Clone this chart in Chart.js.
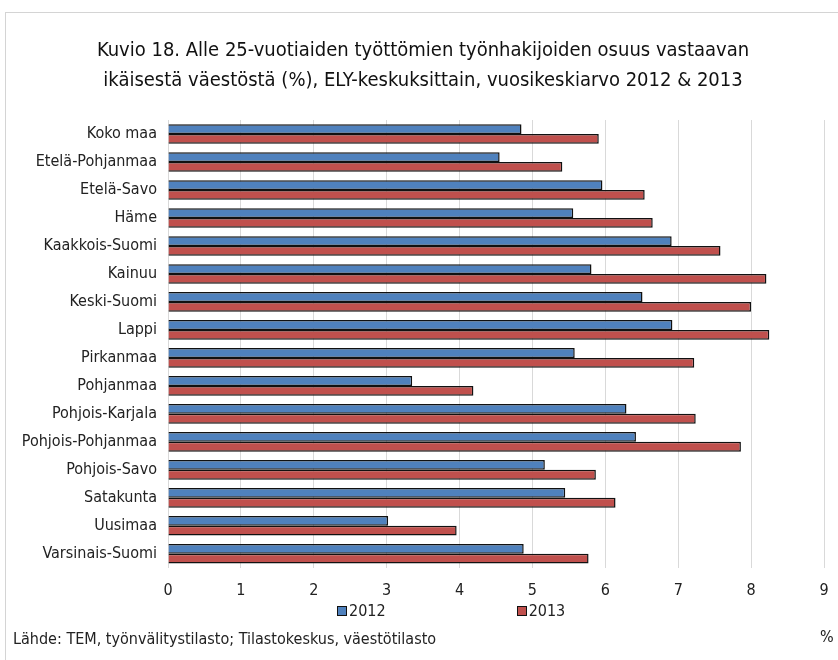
<!DOCTYPE html>
<html lang="fi">
<head>
<meta charset="utf-8">
<script src="https://cdn.jsdelivr.net/npm/chart.js@4/dist/chart.umd.min.js"></script>
<style>
  html, body { margin: 0; padding: 0; background: #fff; }
  body { width: 838px; height: 660px; position: relative; overflow: hidden;
         font-family: 'Liberation Sans Narrow', 'DejaVu Sans Condensed', sans-serif; color: #222; }
  #frame { position: absolute; left: 5px; top: 12px; width: 900px; height: 700px;
           border: 1px solid #d4d4d4; box-sizing: border-box; }
  #chartBox { position: absolute; left: 0; top: 0; width: 838px; height: 660px; }
  #legend { position: absolute; top: 601px; left: 337px; display: flex; font-size: 16px; }
  #legend .item { display: flex; align-items: center; margin-right: 131px; }
  #legend .swatch { width: 8px; height: 8px; border: 1.5px solid #111; margin-right: 2px; }
  #source { position: absolute; left: 13px; top: 629px; font-size: 16px; }
  #unit { position: absolute; left: 820px; top: 627px; font-size: 16px; }
</style>
</head>
<body>
<div id="frame"></div>
<div id="chartBox"><canvas id="chart"></canvas></div>
<div id="legend"></div>
<div id="source">Lähde: TEM, työnvälitystilasto; Tilastokeskus, väestötilasto</div>
<div id="unit">%</div>
<script>
// Aineisto
const regions = ['Koko maa', 'Etelä-Pohjanmaa', 'Etelä-Savo', 'Häme', 'Kaakkois-Suomi', 'Kainuu',
  'Keski-Suomi', 'Lappi', 'Pirkanmaa', 'Pohjanmaa', 'Pohjois-Karjala', 'Pohjois-Pohjanmaa',
  'Pohjois-Savo', 'Satakunta', 'Uusimaa', 'Varsinais-Suomi'];
const years = ['2012', '2013'];
const values2012 = [4.85, 4.55, 5.96, 5.56, 6.91, 5.81, 6.51, 6.92, 5.58, 3.35, 6.29, 6.42, 5.17, 5.45, 3.02, 4.88];
const values2013 = [5.91, 5.41, 6.54, 6.65, 7.58, 8.21, 8.0, 8.25, 7.22, 4.19, 7.24, 7.86, 5.87, 6.14, 3.96, 5.77];
const xTicks = [0, 1, 2, 3, 4, 5, 6, 7, 8, 9];
const titleLines = [
  'Kuvio 18. Alle 25-vuotiaiden työttömien työnhakijoiden osuus vastaavan',
  'ikäisestä väestöstä (%), ELY-keskuksittain, vuosikeskiarvo 2012 & 2013'
];

const fontFamily = "'Liberation Sans Narrow', 'DejaVu Sans Condensed', sans-serif";
const colors = ['#4F81BD', '#C0504D'];

const ctx = document.getElementById('chart').getContext('2d');

const chart = new Chart(ctx, {
  type: 'bar',
  data: {
    labels: regions,
    datasets: [values2012, values2013].map((vals, i) => ({
      label: years[i],
      data: vals,
      backgroundColor: colors[i],
      borderColor: '#111',
      borderWidth: 1.5,
      categoryPercentage: 0.7,
      barPercentage: 1.0,
    })),
  },
  options: {
    indexAxis: 'y',
    responsive: true,
    maintainAspectRatio: false,
    animation: false,
    layout: { padding: { left: 22, right: 14, top: 0, bottom: 47 } },
    plugins: {
      legend: { display: false },
      tooltip: { enabled: false },
      title: {
        display: true,
        text: titleLines,
        color: '#111',
        font: { family: fontFamily, size: 20, weight: 'normal', lineHeight: 1.5 },
        padding: { top: 36, bottom: 24 },
      },
    },
    scales: {
      x: {
        min: 0,
        max: 9,
        afterBuildTicks: (scale) => { scale.ticks = xTicks.map(v => ({ value: v })); },
        // ei ylimääräistä reunusta viimeiselle tikille
        afterFit: (scale) => { scale.paddingRight = 0; },
        grid: { color: '#d9d9d9', drawTicks: false },
        border: { display: false },
        ticks: { color: '#222', padding: 13, font: { family: fontFamily, size: 16 } },
      },
      y: {
        afterFit: (scale) => { scale.width = 146; },
        grid: { display: false, drawTicks: false },
        border: { display: true, color: '#d9d9d9' },
        ticks: { color: '#222', padding: 11, font: { family: fontFamily, size: 16 } },
      },
    },
  },
});

// Selite HTML:nä (leveät välit kuten alkuperäisessä)
const legendEl = document.getElementById('legend');
chart.data.datasets.forEach(ds => {
  const item = document.createElement('div');
  item.className = 'item';
  item.innerHTML = `<span class="swatch" style="background:${ds.backgroundColor}"></span><span>${ds.label}</span>`;
  legendEl.appendChild(item);
});
</script>
</body>
</html>
